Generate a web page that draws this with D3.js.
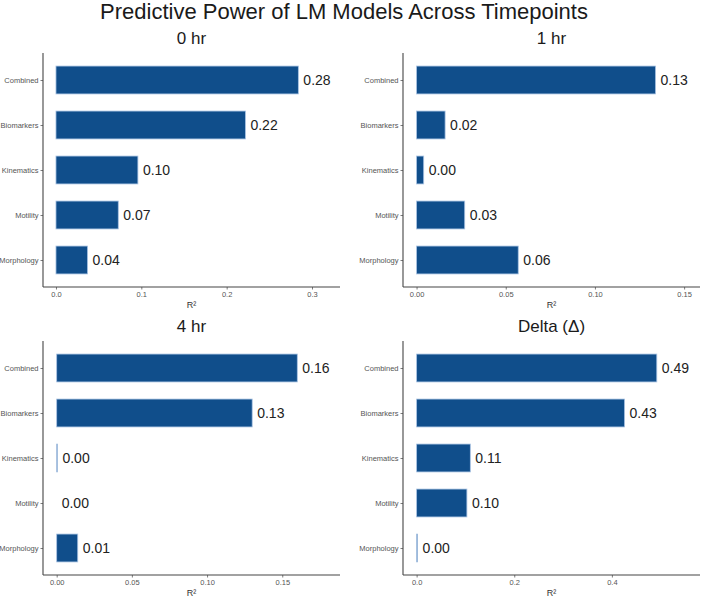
<!DOCTYPE html>
<html>
<head>
<meta charset="utf-8">
<script src="https://cdn.jsdelivr.net/npm/d3@7"></script>
<style>
  body { margin: 0; background: #fff; }
  svg { display: block; font-family: "Liberation Sans", Helvetica, Arial, sans-serif; }
</style>
</head>
<body>
<svg id="chart" width="702" height="597"></svg>
<script>
const chartTitle = "Predictive Power of LM Models Across Timepoints";
const categories = ["Combined", "Biomarkers", "Kinematics", "Motility", "Morphology"];
const panelTitles = ["0 hr", "1 hr", "4 hr", "Delta (\u0394)"];

// R² per model, in category order
const r2Hr0 = [0.284, 0.222, 0.096, 0.073, 0.037];
const r2Hr1 = [0.134, 0.016, 0.004, 0.027, 0.057];
const r2Hr4 = [0.160, 0.130, 0.0005, 0, 0.014];
const r2Delta = [0.492, 0.426, 0.110, 0.103, 0.002];

const xTicks0 = [0, 0.1, 0.2, 0.3];
const xTicks1 = [0, 0.05, 0.10, 0.15];
const xTicks4 = [0, 0.05, 0.10, 0.15];
const xTicksDelta = [0, 0.2, 0.4];

const xLimits0 = [-0.0152, 0.3328];
const xLimits1 = [-0.0076, 0.1589];
const xLimits4 = [-0.0091, 0.1884];
const xLimitsDelta = [-0.0279, 0.5805];

const BAR_FILL = "#104E8B";
const BAR_LINE = "#a9c3e3";

const svg = d3.select("#chart");

svg.append("text")
  .attr("x", 344)
  .attr("y", 19)
  .attr("text-anchor", "middle")
  .style("font-size", "22px")
  .style("fill", "#1a1a1a")
  .text(chartTitle);

const panels = [
  {title: panelTitles[0], values: r2Hr0, ticks: xTicks0, limits: xLimits0, digits: 1, left: 43, top: 53},
  {title: panelTitles[1], values: r2Hr1, ticks: xTicks1, limits: xLimits1, digits: 2, left: 403, top: 53},
  {title: panelTitles[2], values: r2Hr4, ticks: xTicks4, limits: xLimits4, digits: 2, left: 43, top: 341},
  {title: panelTitles[3], values: r2Delta, ticks: xTicksDelta, limits: xLimitsDelta, digits: 1, left: 403, top: 341}
];

const panelW = 297;
const panelH = 234;

panels.forEach(function(p) {
  let g = svg.append("g").attr("transform", `translate(${p.left},${p.top})`);

  let x = d3.scaleLinear().domain(p.limits).range([0, panelW]);
  let y = d3.scalePoint().domain(categories).range([0, panelH]).padding(0.6);
  let barH = y.step() * 0.62;

  // Panel title
  g.append("text")
    .attr("x", panelW / 2)
    .attr("y", -9)
    .attr("text-anchor", "middle")
    .style("font-size", "17px")
    .style("fill", "#1a1a1a")
    .text(p.title);

  let rows = categories.map((c, i) => ({cat: c, val: p.values[i]}));

  // Bars
  g.selectAll("rect.bar")
    .data(rows)
    .enter()
    .append("rect")
    .attr("class", "bar")
    .attr("x", x(0))
    .attr("y", d => y(d.cat) - barH / 2)
    .attr("width", d => x(d.val) - x(0))
    .attr("height", barH)
    .style("fill", BAR_FILL)
    .style("stroke", BAR_LINE)
    .style("stroke-width", "0.8px");

  // Value labels
  g.selectAll("text.val")
    .data(rows)
    .enter()
    .append("text")
    .attr("class", "val")
    .attr("x", d => x(d.val) + 5)
    .attr("y", d => y(d.cat))
    .attr("dy", "0.36em")
    .style("font-size", "14px")
    .style("fill", "#222")
    .text(d => d.val.toFixed(2));

  // Axes
  let xAxis = d3.axisBottom(x)
    .tickValues(p.ticks)
    .tickSize(2.5)
    .tickPadding(2)
    .tickFormat(d3.format("." + p.digits + "f"));

  let yAxis = d3.axisLeft(y)
    .tickSize(2.5)
    .tickPadding(2);

  let gx = g.append("g")
    .attr("transform", `translate(0,${panelH})`)
    .call(xAxis);

  let gy = g.append("g").call(yAxis);

  [gx, gy].forEach(function(a) {
    a.select(".domain").remove();
    a.selectAll(".tick line").style("stroke", "#444").style("stroke-width", "0.7px");
    a.selectAll(".tick text")
      .style("font-family", "\"Liberation Sans\", Helvetica, Arial, sans-serif")
      .style("font-size", "7.5px")
      .style("fill", "#555");
  });

  // Axis lines spanning full panel
  g.append("line")
    .attr("x1", 0).attr("x2", 0)
    .attr("y1", 0).attr("y2", panelH)
    .style("stroke", "#444")
    .style("stroke-width", "1.1px");

  g.append("line")
    .attr("x1", 0).attr("x2", panelW)
    .attr("y1", panelH).attr("y2", panelH)
    .style("stroke", "#444")
    .style("stroke-width", "1.1px");

  // Axis title
  g.append("text")
    .attr("x", panelW / 2)
    .attr("y", panelH + 20.5)
    .attr("text-anchor", "middle")
    .style("font-size", "9px")
    .style("fill", "#333")
    .text("R\u00B2");
});
</script>
</body>
</html>
